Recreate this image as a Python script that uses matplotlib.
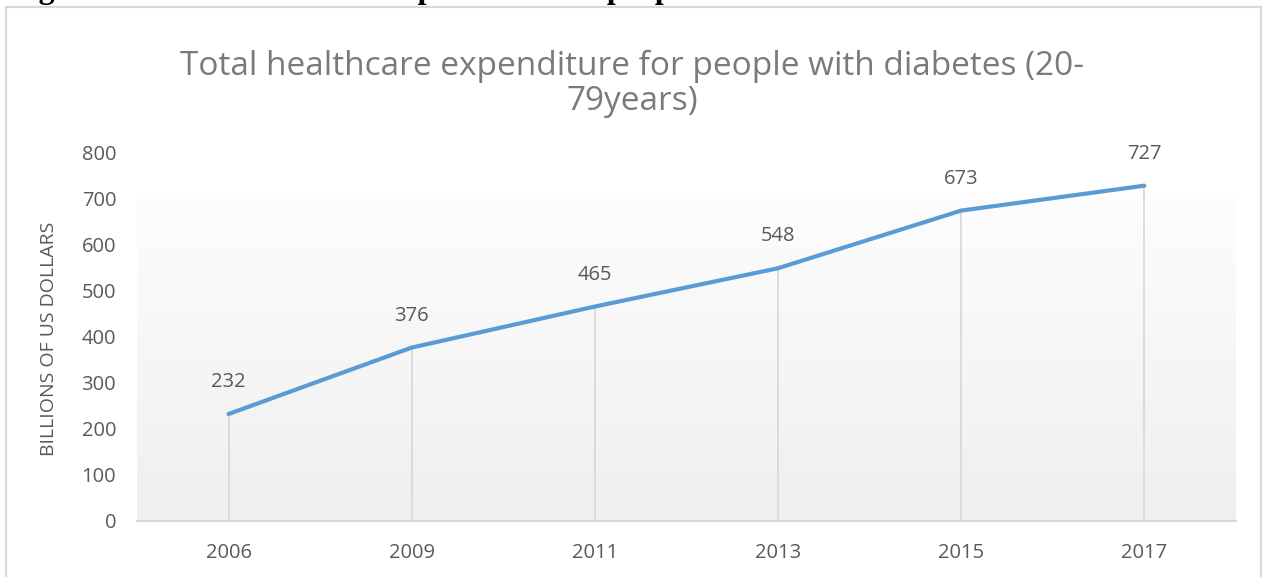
import numpy as np
import matplotlib
matplotlib.use("Agg")
import matplotlib.pyplot as plt
from matplotlib.patches import Rectangle
from matplotlib.colors import LinearSegmentedColormap

# Data
years = ["2006", "2009", "2011", "2013", "2015", "2017"]
expenditure = [232, 376, 465, 548, 673, 727]
y_ticks = [0, 100, 200, 300, 400, 500, 600, 700, 800]

title = "Total healthcare expenditure for people with diabetes (20-\n79years)"
y_label = "BILLIONS OF US DOLLARS"
caption = "Figure 15: Total healthcare expenditure for people with diabetes 2006-2017"

W, H = 1265, 577
fig = plt.figure(figsize=(W / 100, H / 100), dpi=100)
fig.patch.set_facecolor("white")

font = "Open Sans"
text_grey = "#595959"

# Document caption above the chart frame (its top runs off the page edge)
fig.text(10 / W, 1 + 2 / H, caption, family=["Liberation Serif", "DejaVu Serif"],
         weight="bold", fontsize=23, color="black", ha="left", va="baseline",
         zorder=-2)

# Chart frame
frame = Rectangle((6 / W, -0.05), (1261 - 6) / W, 1 - 7 / H + 0.05,
                  transform=fig.transFigure, fill=True, facecolor="white",
                  edgecolor="#d9d9d9", linewidth=1.6, zorder=-1)
fig.patches.append(frame)

ax = fig.add_axes([137 / W, (H - 521) / H, (1236 - 137) / W, (521 - 152) / H])
ax.set_facecolor("none")
x = np.arange(len(years))

# Soft vertical gradient behind the data
grad = np.linspace(0, 1, 256).reshape(-1, 1)
cmap = LinearSegmentedColormap.from_list("bg", ["#efefef", "#fdfdfd"])
ax.imshow(grad, cmap=cmap, aspect="auto", origin="lower",
          extent=(-0.5, len(years) - 0.5, 0, 700), zorder=0)
ax.set_xlim(-0.5, len(years) - 0.5)
ax.set_ylim(0, 800)

# Drop lines
ax.vlines(x, 0, expenditure, color="#d9d9d9", linewidth=1.3, zorder=1)

# Series line
ax.plot(x, expenditure, color="#5b9bd5", linewidth=3.0, solid_capstyle="round",
        solid_joinstyle="round", zorder=3)

# Data labels
for xi, v in zip(x, expenditure):
    ax.annotate(f"{v}", (xi, v), xytext=(0, 23), textcoords="offset points",
                ha="center", va="center", fontsize=14.5, family=font,
                color=text_grey, zorder=4)

for s in ["top", "right", "left"]:
    ax.spines[s].set_visible(False)
ax.spines["bottom"].set_color("#d9d9d9")
ax.spines["bottom"].set_linewidth(1.6)

ax.set_xticks(x)
ax.set_xticklabels(years)
ax.set_yticks(y_ticks)
ax.tick_params(axis="both", length=0, labelsize=14.5, labelcolor=text_grey)
ax.tick_params(axis="x", pad=16)
ax.tick_params(axis="y", pad=15)
for lbl in ax.get_xticklabels() + ax.get_yticklabels():
    lbl.set_family(font)

ax.set_ylabel(y_label, family=font, fontsize=14, color=text_grey)
ax.yaxis.set_label_coords((58 - 137) / (1236 - 137), (521 - 339) / (521 - 152))

fig.text(0.5, 1 - 84 / H, title, family=font, fontsize=24, color="#7a7a7a",
         ha="center", va="center", linespacing=1.05)

fig.savefig("out.png", dpi=100, facecolor="white")
